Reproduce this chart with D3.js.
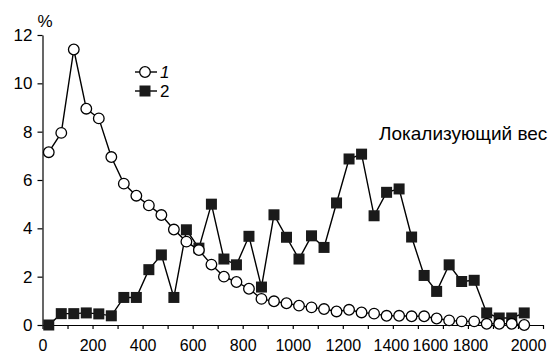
<!DOCTYPE html>
<html>
<head>
<meta charset="utf-8">
<script src="https://cdn.jsdelivr.net/npm/d3@7"></script>
<style>
  body { margin: 0; background: #fff; }
  text { font-family: "Liberation Sans", Arial, sans-serif; fill: #000; }
</style>
</head>
<body>
<script>
// bin centres, weight
var weights = [25, 75, 125, 175, 225, 275, 325, 375, 425, 475, 525, 575, 625, 675, 725, 775,
    825, 875, 925, 975, 1025, 1075, 1125, 1175, 1225, 1275, 1325, 1375, 1425, 1475, 1525,
    1575, 1625, 1675, 1725, 1775, 1825, 1875, 1925];

// series 1 (open circles), %
var series1 = [7.15, 7.95, 11.4, 8.95, 8.55, 6.95, 5.85, 5.35, 4.95, 4.55, 3.95, 3.45, 3.1,
    2.5, 2.0, 1.78, 1.5, 1.08, 0.98, 0.9, 0.8, 0.73, 0.66, 0.56, 0.63, 0.52, 0.47, 0.38,
    0.38, 0.36, 0.36, 0.27, 0.19, 0.15, 0.15, 0.05, 0.05, 0.05, 0.0];

// series 2 (filled squares), %
var series2 = [0.0, 0.47, 0.47, 0.5, 0.46, 0.38, 1.14, 1.14, 2.29, 2.9, 1.14, 3.94, 3.18,
    5.0, 2.73, 2.49, 3.67, 1.57, 4.56, 3.63, 2.73, 3.69, 3.21, 5.05, 6.87, 7.07, 4.52,
    5.49, 5.63, 3.64, 2.05, 1.39, 2.49, 1.8, 1.85, 0.5, 0.29, 0.29, 0.5];

var xTicks = d3.range(0, 2001, 100);
var yTicks = [0, 2, 4, 6, 8, 10, 12];
var legendNames = ["1", "2"];
var axisTitle = "Локализующий вес";
var unitLabel = "%";

var width = 554, height = 356;

// label nudges where the original squeezed the last labels
var labelShift = { 1400: -2, 1600: -13, 1800: -23, 2000: -15 };

var svg = d3.select("body").append("svg")
    .attr("width", width)
    .attr("height", height);

var x = d3.scaleLinear().domain([0, 2000]).range([42.5, 543]);
var y = d3.scaleLinear().domain([0, 12]).range([325, 35]);

var xAxis = d3.axisBottom(x)
    .tickValues(xTicks)
    .tickSize(4)
    .tickSizeOuter(0)
    .tickPadding(11)
    .tickFormat(function (d) { return d % 200 === 0 ? d : ""; });

var gx = svg.append("g")
    .attr("transform", "translate(0,325)")
    .call(xAxis);
gx.selectAll("text")
    .style("font-size", "16px")
    .attr("dx", function (d) { return labelShift[d] || 0; });

var yAxis = d3.axisLeft(y)
    .tickValues(yTicks)
    .tickSize(5)
    .tickSizeOuter(0)
    .tickPadding(5);

var gy = svg.append("g")
    .attr("transform", "translate(42.5,0)")
    .call(yAxis);
gy.selectAll("text").style("font-size", "17px");

svg.selectAll(".domain, .tick line").attr("stroke", "#000").attr("stroke-width", 1.2);

// series 2 first so the circles sit on top
var pts2 = weights.map(function (w, i) { return [w, series2[i]]; });
var pts1 = weights.map(function (w, i) { return [w, series1[i]]; });

var line = d3.line()
    .x(function (d) { return x(d[0]); })
    .y(function (d) { return y(d[1]); });

svg.append("path")
    .datum(pts2)
    .attr("d", line)
    .attr("fill", "none")
    .attr("stroke", "#000")
    .attr("stroke-width", 1.4);

svg.selectAll(".sq")
    .data(pts2)
    .enter().append("rect")
    .attr("class", "sq")
    .attr("x", function (d) { return x(d[0]) - 5.5; })
    .attr("y", function (d) { return y(d[1]) - 5.5; })
    .attr("width", 11)
    .attr("height", 11)
    .attr("fill", "#1a1a1a");

svg.append("path")
    .datum(pts1)
    .attr("d", line)
    .attr("fill", "none")
    .attr("stroke", "#000")
    .attr("stroke-width", 1.4);

svg.selectAll(".ci")
    .data(pts1)
    .enter().append("circle")
    .attr("class", "ci")
    .attr("cx", function (d) { return x(d[0]); })
    .attr("cy", function (d) { return y(d[1]); })
    .attr("r", 5.3)
    .attr("fill", "#fff")
    .attr("stroke", "#000")
    .attr("stroke-width", 1.3);

// legend
var legend = svg.append("g").attr("transform", "translate(135,72)");
legendNames.forEach(function (name, i) {
    var row = legend.append("g").attr("transform", "translate(0," + i * 19 + ")");
    row.append("line")
        .attr("x1", 0).attr("x2", 22)
        .attr("stroke", "#000").attr("stroke-width", 1.4);
    if (i === 0) {
        row.append("circle")
            .attr("cx", 10).attr("r", 5.3)
            .attr("fill", "#fff").attr("stroke", "#000").attr("stroke-width", 1.3);
    } else {
        row.append("rect")
            .attr("x", 4.5).attr("y", -5.5)
            .attr("width", 11).attr("height", 11)
            .attr("fill", "#1a1a1a");
    }
    row.append("text")
        .attr("x", 25).attr("y", 6)
        .style("font-size", "17px")
        .style("font-style", i === 0 ? "italic" : "normal")
        .text(name);
});

svg.append("text")
    .attr("x", 379).attr("y", 140)
    .style("font-size", "19px")
    .text(axisTitle);

svg.append("text")
    .attr("x", 45).attr("y", 27)
    .attr("text-anchor", "middle")
    .style("font-size", "17px")
    .text(unitLabel);
</script>
</body>
</html>
